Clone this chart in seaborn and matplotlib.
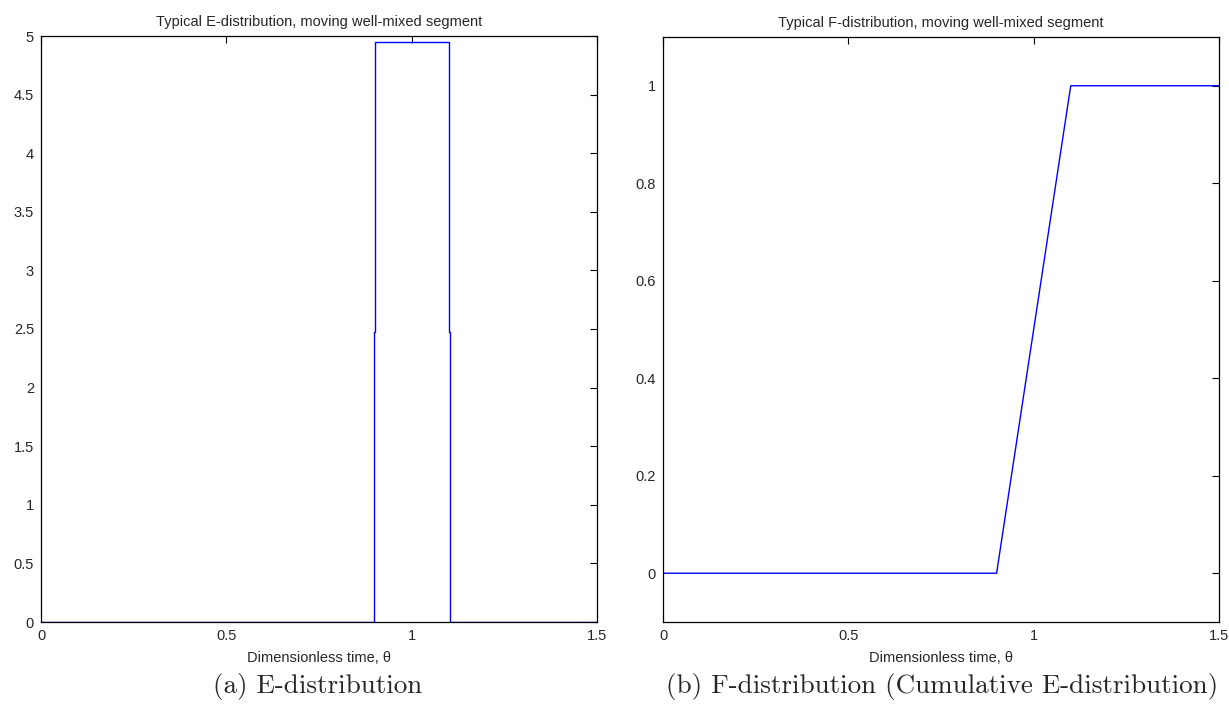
import numpy as np
import pandas as pd
import matplotlib
matplotlib.use('Agg')
import matplotlib.pyplot as plt
import seaborn as sns

# E-distribution (pulse between theta = 0.9 and 1.1)
theta_e = [0, 0.898, 0.898, 0.902, 0.902, 1.100, 1.100, 1.104, 1.104, 1.5]
e_vals = [0, 0, 2.475, 2.475, 4.95, 4.95, 2.475, 2.475, 0, 0]

# F-distribution (cumulative)
theta_f = [0, 0.9, 1.1, 1.5]
f_vals = [0, 0, 1, 1]

e_ticks_y = [0, 0.5, 1, 1.5, 2, 2.5, 3, 3.5, 4, 4.5, 5]
e_ticklabels_y = ['0', '0.5', '1', '1.5', '2', '2.5', '3', '3.5', '4', '4.5', '5']
f_ticks_y = [0, 0.2, 0.4, 0.6, 0.8, 1]
f_ticklabels_y = ['0', '0.2', '0.4', '0.6', '0.8', '1']
x_ticks = [0, 0.5, 1, 1.5]
x_ticklabels = ['0', '0.5', '1', '1.5']

titles = ['Typical E-distribution, moving well-mixed segment',
          'Typical F-distribution, moving well-mixed segment']
xlabel = 'Dimensionless time, \u03b8'
captions = ['(a) E-distribution', '(b) F-distribution (Cumulative E-distribution)']

sns.set_style('white')
plt.rcParams['font.family'] = ['Liberation Sans', 'DejaVu Sans']
plt.rcParams['xtick.direction'] = 'in'
plt.rcParams['ytick.direction'] = 'in'

fig = plt.figure(figsize=(12.29, 7.17), dpi=100)
W, H = 1229, 717
ax1 = fig.add_axes([41 / W, 1 - 622 / H, 556 / W, 586 / H])
ax2 = fig.add_axes([663 / W, 1 - 622 / H, 556 / W, 585 / H])

dfe = pd.DataFrame({'theta': theta_e, 'E': e_vals})
dff = pd.DataFrame({'theta': theta_f, 'F': f_vals})

sns.lineplot(data=dfe, x='theta', y='E', ax=ax1, sort=False, estimator=None,
             color='#0000ff', linewidth=1.0)
sns.lineplot(data=dff, x='theta', y='F', ax=ax2, sort=False, estimator=None,
             color='#0000ff', linewidth=1.0)

ax1.set_xlim(0, 1.5)
ax1.set_ylim(0, 5)
ax1.set_yticks(e_ticks_y)
ax1.set_yticklabels(e_ticklabels_y)
ax2.set_xlim(0, 1.5)
ax2.set_ylim(-0.1, 1.1)
ax2.set_yticks(f_ticks_y)
ax2.set_yticklabels(f_ticklabels_y)

for ax, title in zip([ax1, ax2], titles):
    ax.set_xticks(x_ticks)
    ax.set_xticklabels(x_ticklabels)
    ax.set_title(title, fontsize=10.5, pad=7)
    ax.set_xlabel(xlabel, fontsize=10.5, labelpad=6)
    ax.set_ylabel('')
    ax.tick_params(axis='both', which='both', labelsize=10.5, length=5, width=0.8,
                   top=True, right=True, color='black', pad=5)
    for s in ax.spines.values():
        s.set_color('black')
        s.set_linewidth(0.9)
        s.set_visible(True)
    ax.grid(False)
    if ax.get_legend():
        ax.get_legend().remove()

fig.text(318 / W, 1 - 686 / H, captions[0], ha='center', va='center',
         fontsize=19.5, family=['cmr10', 'DejaVu Serif'])
fig.text(942 / W, 1 - 686 / H, captions[1], ha='center', va='center',
         fontsize=19.5, family=['cmr10', 'DejaVu Serif'])

fig.savefig('out.png', dpi=100)
